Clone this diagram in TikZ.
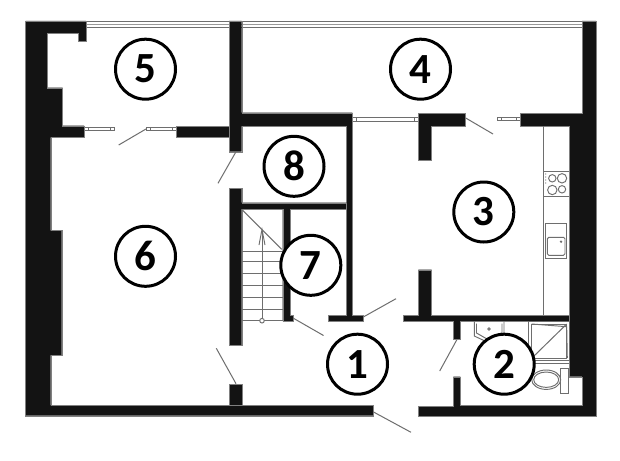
\documentclass[tikz,border=0pt]{standalone}
\usepackage{fontspec}
\setmainfont{Carlito}
\definecolor{wallc}{HTML}{131313}
\definecolor{thinc}{HTML}{6E6E6E}
\tikzset{
  wall/.style={fill=wallc,draw=gray,line width=0.3pt},
  thin line/.style={draw=thinc,line width=0.95pt},
  leaf/.style={draw=thinc,line width=1pt},
  pane/.style={draw=thinc,fill=white,line width=0.8pt},
  roomlabel/.style={circle,draw=black,fill=white,line width=3pt,minimum size=60pt,inner sep=0pt,font=\fontsize{43}{43}\selectfont\bfseries},
}
\begin{document}
\begin{tikzpicture}[x=1pt,y=-1pt]
\useasboundingbox (0,0) rectangle (620,460);
\fill[white] (0,0) rectangle (620,460);
% long window along the top
\draw[draw=thinc,line width=0.9pt] (86,21.7) -- (582,21.7);
\draw[draw=thinc!70,line width=0.7pt] (86,24.5) -- (582,24.5);
\draw[draw=thinc,line width=1.1pt] (86,27.6) -- (582,27.6);
% small windows
\draw[pane] (84,127) rectangle (114.7,130.7);
\draw[thin line] (88,127) -- (88,130.7) (110,127) -- (110,130.7);
\draw[pane] (146,127) rectangle (176,130.7);
\draw[thin line] (150,127) -- (150,130.7) (172,127) -- (172,130.7);
\draw[pane] (352,117.7) rectangle (418.3,121.7);
\draw[thin line] (356.7,117.7) -- (356.7,121.7) (414,117.7) -- (414,121.7);
\draw[pane] (497,117) rectangle (520,120.7);
\draw[thin line] (501,117) -- (501,120.7) (516,117) -- (516,120.7);
% walls
\draw[wall] (25.5,21) -- (86,21) -- (86,41) -- (78,41) -- (78,33) -- (47.3,33) -- (47.3,87.7) -- (62.5,87.7) -- (62.5,125.7) -- (84,125.7) -- (84,137.3) -- (50.7,137.3) -- (50.7,230.5) -- (61.7,230.5) -- (61.7,355) -- (50.7,355) -- (50.7,405.3) -- (373,405.3) -- (373,415.7) -- (25.5,415.7) -- cycle;
\draw[wall] (176,125.7) rectangle (229,137.3);
\draw[wall] (229,21) -- (241.7,21) -- (241.7,112.7) -- (352.3,112.7) -- (352.3,315) -- (363,315) -- (363,321.3) -- (328.3,321.3) -- (328.3,315) -- (346,315) -- (346,126) -- (241.7,126) -- (241.7,151.7) -- (229,151.7) -- cycle;
\draw[wall] (229,188) -- (241.7,188) -- (241.7,202.7) -- (346.5,202.7) -- (346.5,209) -- (290,209) -- (290,315) -- (293,315) -- (293,321) -- (282.7,321) -- (282.7,209) -- (241.7,209) -- (241.7,345) -- (229,345) -- cycle;
\draw[wall] (229,383.7) rectangle (241.7,405.6);
\draw[wall] (418.3,113) -- (465.3,113) -- (465.3,126) -- (431.5,126) -- (431.5,160.3) -- (418.3,160.3) -- cycle;
\draw[wall] (520,113) -- (582,113) -- (582,21) -- (596,21) -- (596,416) -- (418.3,416) -- (418.3,406) -- (453.3,406) -- (453.3,376.7) -- (460.3,376.7) -- (460.3,405.3) -- (582,405.3) -- (582,376.7) -- (569.3,376.7) -- (569.3,126) -- (520,126) -- cycle;
\draw[wall] (418.3,269.7) -- (431.5,269.7) -- (431.5,315) -- (569.5,315) -- (569.5,321.3) -- (460.3,321.3) -- (460.3,339.3) -- (453.3,339.3) -- (453.3,321.3) -- (403.3,321.3) -- (403.3,315) -- (418.3,315) -- cycle;
% door leaves
\draw[leaf] (118.7,145) -- (146,129);
\draw[leaf] (236,151.7) -- (218,183.3);
\draw[leaf] (465.7,118) -- (493,134);
\draw[leaf] (216.3,348.3) -- (236,383.7);
\draw[leaf] (293,318) -- (323.5,335.5);
\draw[leaf] (363.3,317) -- (396,298.7);
\draw[leaf] (373,411.7) -- (411,432.3);
\draw[leaf] (456.7,340) -- (439.7,371);
% stairs
\draw[leaf] (241.7,209.3) -- (281.7,249.3);
\foreach \yy in {251.7,261.7,273.3,285.7,297.3,309,320.7}
  \draw[thin line] (241.7,\yy) -- (282.7,\yy);
\draw[thin line] (262,318.4) -- (262,229.5);
\draw[thin line] (259,245) -- (262,229.5) -- (265,245);
\draw[thin line,fill=white] (262,320.7) circle (2.3);
% kitchen
\draw[thin line] (543.3,126) -- (543.3,315);
\draw[thin line] (543.3,171) -- (569.3,171);
\draw[thin line] (543.3,196.7) -- (569.3,196.7);
\draw[thin line] (552.3,178.3) circle (3.7);
\draw[thin line] (562,178.3) circle (4.7);
\draw[thin line] (552.3,190) circle (4.7);
\draw[thin line] (562,189.3) circle (3.7);
\foreach \yy in {174,177,180,183}
  \fill[thinc] (545.7,\yy) circle (0.7);
\draw[thin line] (545,223.3) rectangle (566.7,258.3);
\draw[thin line,rounded corners=1.5pt] (547.3,237.3) rectangle (565,255.3);
\fill[thinc] (561,241.7) circle (1.3);
% bathroom
\draw[thin line] (474.3,321.3) -- (474.3,336) -- (487,342) -- (504,335) -- (504,321.3);
\draw[thin line] (476.5,323.5) -- (476.5,333) -- (487,339) -- (502,333) -- (502,323.5);
\draw[thin line] (489,329) circle (1.3);
\draw[thin line] (528.7,321.3) rectangle (569.3,360);
\draw[thin line] (531.7,324) rectangle (566.7,358);
\draw[leaf] (566.7,324) -- (534,356);
\draw[thin line] (531.7,324) -- (566.7,326.7) -- (567.3,358);
\draw[thin line] (535,363.3) -- (569.3,363.3);
\draw[thin line] (560,368.3) rectangle (568.7,393.3);
\draw[thin line,fill=white] (546.2,379.7) ellipse (14.5 and 9.7);
\draw[thin line] (546.2,379.7) ellipse (12.5 and 7.7);
% room labels
\node[roomlabel] (r5) at (145.5,69.2) {5};
\node[roomlabel] (r4) at (420.5,69.2) {4};
\node[roomlabel] (r8) at (294,166.3) {8};
\node[roomlabel] (r3) at (483.8,212) {3};
\node[roomlabel] (r6) at (145.5,256.3) {6};
\node[roomlabel] (r7) at (310.8,265.3) {7};
\node[roomlabel] (r1) at (357.5,364.2) {1};
\node[roomlabel] (r2) at (504.2,364.2) {2};
\end{tikzpicture}
\end{document}
